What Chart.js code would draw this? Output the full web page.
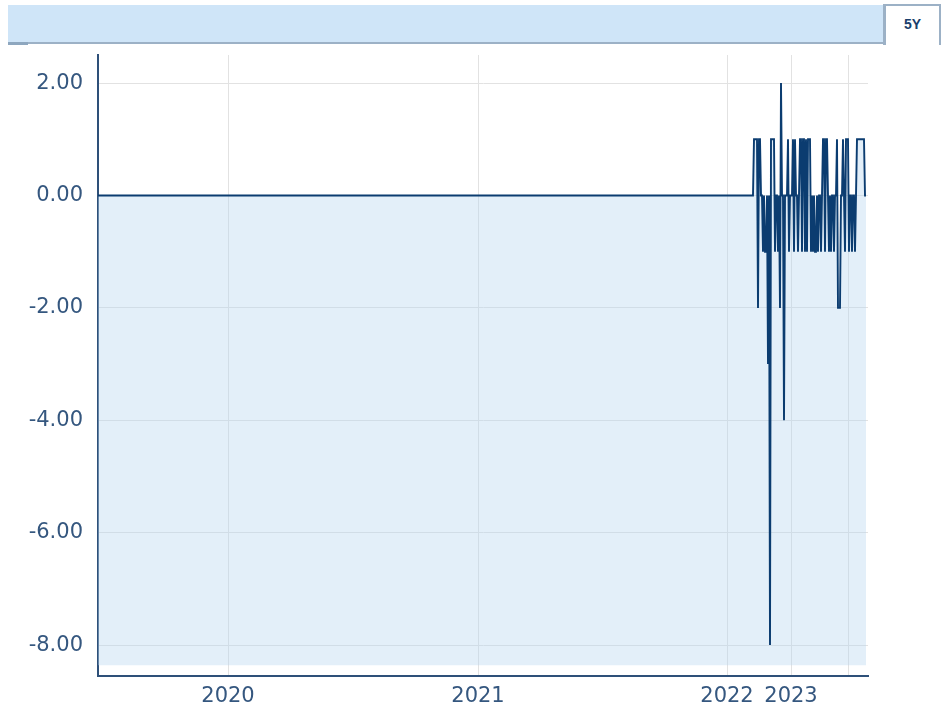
<!DOCTYPE html>
<html>
<head>
<meta charset="utf-8">
<script src="https://cdn.jsdelivr.net/npm/chart.js@4.4.1/dist/chart.umd.min.js"></script>
<style>
  html, body { margin: 0; padding: 0; background: #fff; }
  body { width: 949px; height: 709px; position: relative; overflow: hidden; }
  #bar {
    position: absolute; left: 8px; top: 5px; width: 876px; height: 37px;
    background: #cfe5f8; border-bottom: 2px solid #9cb1c6;
  }
  #barEdge { position: absolute; left: 8px; top: 42px; width: 20px; height: 3px; background: #8ea7bf; }
  #tab {
    position: absolute; left: 883px; top: 4px; width: 58px; height: 41px;
    background: #fff; border-left: 3px solid #9cb1c6; border-right: 2px solid #9cb1c6;
    border-top: 2px solid #9cb1c6; box-sizing: border-box;
    font: bold 14px "Liberation Sans", Arial, sans-serif; color: #1b3f6c;
    text-align: center; line-height: 36px;
  }
  #chart { position: absolute; left: 0; top: 0; z-index: 1; }
  #bar, #tab, #barEdge { z-index: 2; }
</style>
</head>
<body>
<div id="bar"></div>
<div id="barEdge"></div>
<div id="tab">5Y</div>
<canvas id="chart" width="949" height="709"></canvas>
<script>
// --- DATA ---
// early records: no change
const flatIdx = [0, 655];
const flatVals = [0, 0];
// recent records, one per index starting at recentStart
const recentStart = 656;
const recentVals = [
  1, 1, 1, 1, -2, 1, 1, 0, 0, -1,
  0, -1, -1, 0, -3, 0, -8, 1, 1, 1,
  1, -1, 0, 0, -1, 0, -2, 2, 0, 0,
  -4, 0, 0, 0, 1, -1, 0, 0, 0, 1,
  -1, 1, 0, 0, -1, 0, 1, 1, -1, 1,
  1, -1, 1, -1, 1, 1, 1, -1, 0, -1,
  0, -1, -1, 0, -1, 0, 0, -1, 0, 1,
  1, -1, 1, 1, 0, -1, 0, -1, 0, 0,
  -1, 0, 0, 1, -2, -2, -2, 0, 0, 1,
  0, -1, 1, 1, 1, -1, 0, 0, -1, 0,
  0, -1, 0, 1, 1, 1, 1, 1, 1, 1,
  1, 0, 0
];
// year boundaries (record index) and their labels
const yearIdx = [130, 380, 629, 693, 750];
const yearLabels = ["2020", "2021", "2022", "2023", ""];
const yTicks = [-8, -6, -4, -2, 0, 2];

const X_MIN = 0, X_MAX = 770;
const Y_MIN = -8.55, Y_MAX = 2.5, FILL_TO = -8.36;

// --- BUILD POINTS ---
const points = flatIdx.map((x, i) => ({ x: x, y: flatVals[i] }));
recentVals.forEach((v, i) => points.push({ x: recentStart + i, y: v }));

const tickFont = { family: "'DejaVu Sans', Verdana, sans-serif", size: 21 };
const tickColor = '#35577f';
const axisColor = '#2e5079';
const gridColor = '#e2e2e2';

new Chart(document.getElementById('chart').getContext('2d'), {
  type: 'line',
  data: {
    datasets: [{
      data: points,
      borderColor: '#0b3c70',
      borderWidth: 1.9,
      backgroundColor: 'rgba(185, 215, 240, 0.4)',
      fill: { value: FILL_TO },
      pointRadius: 0,
      tension: 0
    }]
  },
  options: {
    responsive: false,
    animation: false,
    devicePixelRatio: 1,
    layout: { padding: { top: 55, right: 81, left: 0, bottom: 0 } },
    plugins: { legend: { display: false }, tooltip: { enabled: false } },
    scales: {
      x: {
        type: 'linear',
        min: X_MIN,
        max: X_MAX,
        afterBuildTicks: (scale) => { scale.ticks = yearIdx.map(v => ({ value: v })); },
        afterFit: (scale) => { scale.height = 33; },
        ticks: {
          autoSkip: false,
          maxRotation: 0,
          padding: 8,
          color: tickColor,
          font: tickFont,
          callback: (value, index) => yearLabels[index]
        },
        grid: { color: gridColor, lineWidth: 1, drawTicks: false },
        border: { display: true, color: axisColor, width: 2 }
      },
      y: {
        min: Y_MIN,
        max: Y_MAX,
        afterBuildTicks: (scale) => { scale.ticks = yTicks.map(v => ({ value: v })); },
        afterFit: (scale) => { scale.width = 98; },
        ticks: {
          padding: 15,
          color: tickColor,
          font: tickFont,
          callback: (value) => Number(value).toFixed(2)
        },
        grid: { color: gridColor, lineWidth: 1, drawTicks: false },
        border: { display: true, color: axisColor, width: 2 }
      }
    }
  }
});
</script>
</body>
</html>
